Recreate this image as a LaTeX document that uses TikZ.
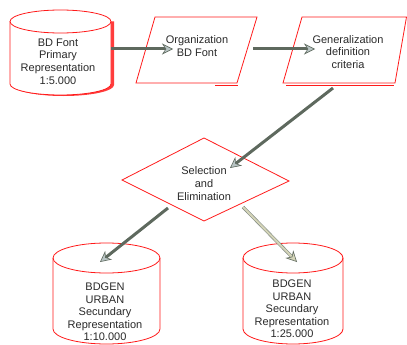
\documentclass[tikz,border=0pt]{standalone}
\usepackage{fontspec}
\setmainfont{Liberation Sans}
\usetikzlibrary{arrows.meta}
\definecolor{edgered}{HTML}{FF1A1A}
\definecolor{arrowdark}{HTML}{5E695E}
\definecolor{arrowlight}{HTML}{D4D4B8}
\definecolor{headfill}{HTML}{B8C4C4}
\definecolor{txt}{HTML}{2A2A2A}
\tikzset{
  shapeline/.style={draw=edgered, line width=0.8pt},
  label/.style={align=center, inner sep=0pt, text=txt, font=\fontsize{11}{12.6}\selectfont},
  flow/.style={draw=arrowdark, line width=3pt,
    -{Stealth[length=11pt,width=11pt,color=arrowdark,fill=headfill,line width=0.6pt]}},
  flowlight/.style={draw=arrowdark!80, line width=0.6pt, double=arrowlight, double distance=2pt,
    -{Stealth[length=11pt,width=11pt,color=arrowdark,fill=arrowlight,line width=0.6pt]}},
}
\begin{document}
\begin{tikzpicture}[x=1pt,y=-1pt]
\useasboundingbox (0,0) rectangle (407,345);
% cylinder 1 with shadow
\fill[edgered!85] (13,21.5) -- (13,85) arc[start angle=180,end angle=360,x radius=50.5pt,y radius=11pt] -- (114,21.5) -- cycle;
\draw[shapeline, fill=white] (10,21.5) -- (10,84) arc[start angle=180,end angle=360,x radius=50.5pt,y radius=11pt] -- (111,21.5);
\draw[shapeline, fill=white] (60.5,21.5) ellipse[x radius=50.5pt,y radius=11.5pt];
% cylinder 2
\draw[shapeline, fill=white] (53,258) -- (53,329) arc[start angle=180,end angle=360,x radius=53.5pt,y radius=15pt] -- (160,258);
\draw[shapeline] (106.5,258) ellipse[x radius=53.5pt,y radius=15pt];
% cylinder 3
\draw[shapeline, fill=white] (243,258) -- (243,329) arc[start angle=180,end angle=360,x radius=50pt,y radius=15pt] -- (343,258);
\draw[shapeline] (293,258) ellipse[x radius=50pt,y radius=15pt];
% parallelograms
\draw[shapeline] (155,17) -- (257,17) -- (237,83) -- (136,83) -- cycle;
\draw[shapeline, line width=0.5pt] (215,85.5) -- (238,85.5);
\draw[shapeline] (302,17) -- (406.5,17) -- (395,83) -- (283,83) -- cycle;
\draw[shapeline, line width=0.5pt] (286,85.5) -- (394,85.5);
% diamond
\draw[shapeline] (204,138) -- (289,181) -- (204,221) -- (122,180) -- cycle;
% text nodes
\node[label] (src) at (58,61.5) {BD Font\\Primary\\Representation\\1:5.000};
\node[label] (org) at (197,46) {Organization\\BD Font};
\node[label] (gen) at (348,52) {Generalization\\definition\\criteria};
\node[label] (sel) at (204,183.5) {Selection\\and\\Elimination};
\node[label] (out1) at (105,312) {BDGEN\\URBAN\\Secundary\\Representation\\1:10.000};
\node[label] (out2) at (292,309) {BDGEN\\URBAN\\Secundary\\Representation\\1:25.000};
% connector endpoints
\coordinate (a1s) at (111,49);
\coordinate (a1e) at (173,49);
\coordinate (a2s) at (253,49);
\coordinate (a2e) at (315,49);
\coordinate (a3s) at (333,88);
\coordinate (a3e) at (230,168);
\coordinate (a4s) at (168,208);
\coordinate (a4e) at (100,262);
\coordinate (a5s) at (243,207);
\coordinate (a5e) at (297,262);
\draw[flow] (a1s) -- (a1e);
\draw[flow] (a2s) -- (a2e);
\draw[flow] (a3s) -- (a3e);
\draw[flow] (a4s) -- (a4e);
\draw[flowlight] (a5s) -- (a5e);
\end{tikzpicture}
\end{document}
